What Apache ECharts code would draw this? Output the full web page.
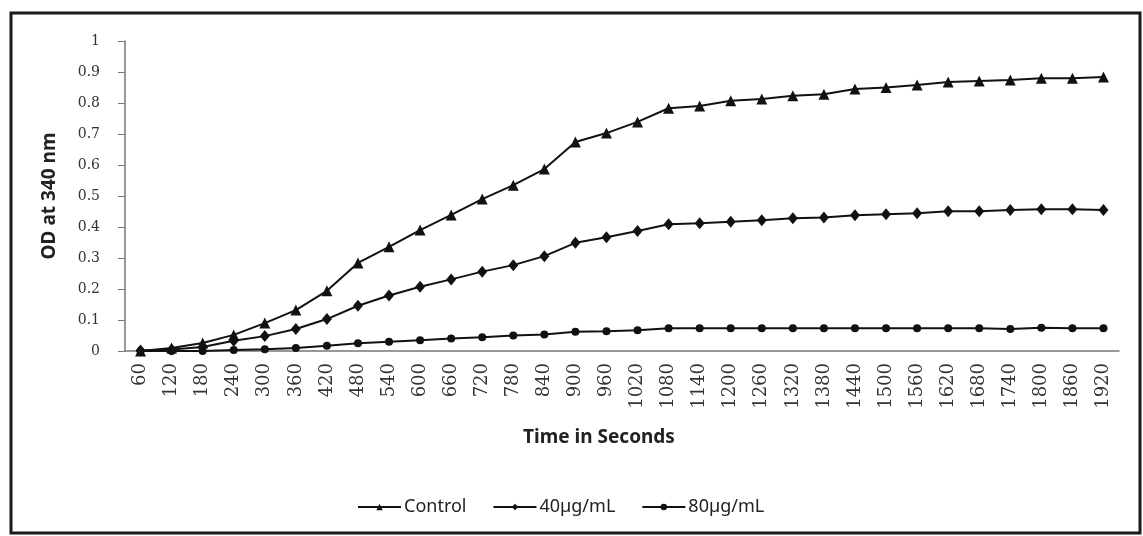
<!DOCTYPE html>
<html>
<head>
<meta charset="utf-8">
<script src="https://cdn.jsdelivr.net/npm/echarts@6/dist/echarts.min.js"></script>
<style>
html, body { margin: 0; padding: 0; background: #fff; }
#main { width: 1143px; height: 536px; }
</style>
</head>
<body>
<div id="main"></div>
<script>
// time points (seconds)
var times = ['60', '120', '180', '240', '300', '360', '420', '480', '540', '600',
		'660', '720', '780', '840', '900', '960', '1020', '1080', '1140', '1200',
		'1260', '1320', '1380', '1440', '1500', '1560', '1620', '1680', '1740',
		'1800', '1860', '1920'];

// OD at 340 nm
var control = [0, 0.01, 0.026, 0.052, 0.09, 0.132, 0.194, 0.284, 0.336, 0.39,
		0.439, 0.49, 0.535, 0.587, 0.674, 0.703, 0.739, 0.783, 0.79, 0.807,
		0.813, 0.823, 0.828, 0.845, 0.85, 0.858, 0.868, 0.871, 0.874, 0.88,
		0.88, 0.884];
var dose40 = [0.002, 0.005, 0.013, 0.033, 0.048, 0.071, 0.103, 0.146, 0.179, 0.207,
		0.231, 0.256, 0.277, 0.306, 0.349, 0.367, 0.387, 0.409, 0.412, 0.417,
		0.422, 0.428, 0.431, 0.438, 0.441, 0.444, 0.451, 0.451, 0.455, 0.457,
		0.457, 0.455];
var dose80 = [0, 0, 0, 0.003, 0.006, 0.01, 0.017, 0.025, 0.03, 0.035,
		0.04, 0.044, 0.05, 0.053, 0.062, 0.064, 0.067, 0.073, 0.073, 0.073,
		0.073, 0.073, 0.073, 0.073, 0.073, 0.073, 0.073, 0.073, 0.071, 0.075,
		0.073, 0.073];

var seriesNames = ['Control', '40\u00b5g/mL', '80\u00b5g/mL'];

var chart = echarts.init(document.getElementById('main'));

// one line series
function makeLine(name, data, symbol, size) {
	return {
		name : name,
		type : 'line',
		data : data,
		symbol : symbol,
		symbolSize : size,
		showAllSymbol : true,
		lineStyle : { color : '#111', width : 2 },
		itemStyle : { color : '#111' }
	};
}

var option = {
	animation : false,
	backgroundColor : '#fff',
	grid : {
		left : 125,
		right : 24,
		top : 41,
		bottom : 185
	},
	legend : {
		data : seriesNames,
		left : 352,
		top : 493,
		itemWidth : 43,
		itemHeight : 8,
		itemGap : 26,
		textStyle : {
			fontFamily : 'Noto Sans',
			fontSize : 18,
			color : '#222',
			padding : [0, 0, 0, -2]
		}
	},
	xAxis : {
		type : 'category',
		data : times,
		boundaryGap : true,
		name : 'Time in Seconds',
		nameLocation : 'middle',
		nameGap : 77,
		nameTextStyle : {
			fontFamily : 'Noto Sans',
			fontSize : 19,
			fontWeight : 'bold',
			color : '#222',
			padding : [0, 46, 0, 0]
		},
		axisLine : { lineStyle : { color : '#777', width : 1.5 } },
		axisTick : { alignWithLabel : true, length : 5, lineStyle : { color : '#777' } },
		axisLabel : {
			rotate : 90,
			margin : 12,
			fontFamily : 'DejaVu Serif',
			fontSize : 18,
			color : '#333'
		},
		splitLine : { show : false }
	},
	yAxis : {
		type : 'value',
		min : 0,
		max : 1,
		interval : 0.1,
		name : 'OD at 340 nm',
		nameLocation : 'middle',
		nameGap : 66,
		nameTextStyle : {
			fontFamily : 'Noto Sans',
			fontSize : 19,
			fontWeight : 'bold',
			color : '#222'
		},
		axisLine : { show : true, lineStyle : { color : '#777', width : 1.5 } },
		axisTick : { show : true, length : 7, lineStyle : { color : '#777' } },
		axisLabel : {
			margin : 25,
			fontFamily : 'DejaVu Serif',
			fontSize : 14,
			color : '#333'
		},
		splitLine : { show : false }
	},
	graphic : [ {
		type : 'rect',
		shape : { x : 11, y : 13, width : 1129, height : 520 },
		style : { fill : 'none', stroke : '#1a1a1a', lineWidth : 3 },
		silent : true
	} ],
	series : [
		makeLine(seriesNames[0], control, 'triangle', 11),
		makeLine(seriesNames[1], dose40, 'diamond', [10, 12]),
		makeLine(seriesNames[2], dose80, 'circle', 8)
	]
};

chart.setOption(option);
</script>
</body>
</html>
